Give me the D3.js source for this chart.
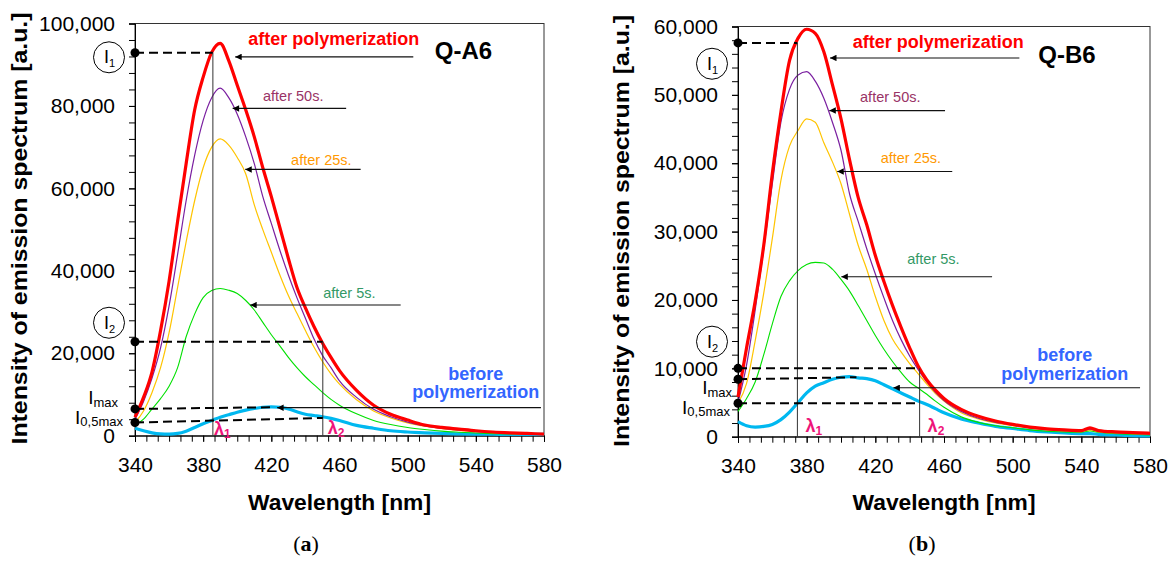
<!DOCTYPE html>
<html><head><meta charset="utf-8">
<script src="https://cdn.jsdelivr.net/npm/d3@7"></script>
<style>
body{margin:0;background:#fff;}
svg{display:block;font-family:"Liberation Sans",Arial,sans-serif;}
</style></head><body>
<svg id="chart" width="1169" height="561"></svg>
<script>
// ---------- DATA ----------
const wavelengthA = [340,345,350,355,360,365,370,375,380,385,390,395,400,405,410,415,420,425,430,435,440,445,450,455,460,470,480,490,500,510,520,530,540,550,560,570,580];
const qa6AfterPoly = [4500,9300,15500,25500,37500,52000,66000,79000,87000,93000,95200,91000,85000,79000,72500,65000,58000,50500,43000,36000,31000,26500,22500,19000,15800,11000,7400,5200,3800,2600,2000,1600,1200,900,700,550,400];
const qa6After50 = [4000,8300,14000,21300,31500,44000,57000,68000,76500,82000,84300,82000,78000,72500,66000,58000,51500,45000,39000,33500,28500,23500,19500,16500,13300,9300,6400,4600,3300,2400,1800,1400,1050,800,600,450,350];
const qa6After25 = [3200,6000,10500,16500,25000,36000,47000,57000,65000,70000,72000,70500,67500,63500,56000,50000,44500,39000,34000,29700,25500,21500,18000,15000,12500,8700,6000,4300,3100,2300,1700,1300,1000,750,550,400,300];
const qa6After5 = [2500,4000,6500,9000,12000,16500,24000,29500,33500,35200,35700,35300,34500,32800,30500,27500,24500,21800,19000,16500,14300,12400,10500,8800,7400,5300,3700,2700,2000,1500,1100,850,650,500,400,350,300];
const qa6Before = [1800,1200,700,450,400,550,1100,2000,2900,3700,4500,5100,5700,6200,6600,6900,7000,6900,6500,5800,5200,4900,4600,4200,3700,2500,1800,1200,900,700,550,450,400,350,300,300,300];

const wavelengthB = [340,345,350,355,360,365,370,375,380,385,390,395,400,405,410,415,420,425,430,435,440,445,450,455,460,470,480,490,500,510,520,530,540,545,550,560,570,580];
const qb6AfterPoly = [5800,13000,19800,28000,38500,47500,55000,58300,59600,59000,56300,51500,46500,40500,35000,31000,26500,22700,19200,16000,13000,10300,8300,6800,5600,4000,3000,2300,1800,1400,1150,1000,900,1300,900,700,600,500];
const qb6After50 = [5000,10500,18500,27500,37000,46000,50800,52900,53400,52000,49500,46000,41900,35500,31500,27500,23800,20300,17000,14200,11800,9800,8000,6500,5300,3700,2700,2100,1700,1300,1050,900,800,1100,800,600,500,400];
const qb6After25 = [4900,7800,14000,21000,29000,37500,42500,44800,46500,46000,43000,40200,37000,32500,28000,24500,20500,17000,14300,12400,10700,9200,7700,6300,5200,3500,2600,2000,1600,1250,1000,850,750,1000,750,550,450,350];
const qb6After5 = [3700,5600,8000,12000,16500,20500,22800,24300,25200,25500,25400,24500,23000,21300,19200,17000,14800,12800,11000,9400,8000,7100,6200,5200,4300,2900,2100,1600,1300,1000,800,700,650,850,650,450,350,250];
const qb6Before = [2200,1600,1400,1500,1800,2500,3600,5000,6400,7400,7900,8400,8700,8800,8600,8500,8200,7600,7000,6400,5800,5200,4700,4100,3500,2600,2000,1500,1200,900,700,550,450,450,350,250,150,100];

const xTickValues = [340,380,420,460,500,540,580];
const xTickLabels = ["340","380","420","460","500","540","580"];
const yTickValuesA = [0,20000,40000,60000,80000,100000];
const yTickLabelsA = ["0","20,000","40,000","60,000","80,000","100,000"];
const yTickValuesB = [0,10000,20000,30000,40000,50000,60000];
const yTickLabelsB = ["0","10,000","20,000","30,000","40,000","50,000","60,000"];

const seriesNames = ["before polymerization","after 5s.","after 25s.","after 50s.","after polymerization"];

// characteristic points (wavelength nm / intensity a.u.)
const markersA = {I1:92900, lambda1:385.7, I2:22800, lambda2:450.2, Imax:6500, ImaxEnd:[420,6900], I05:3200, I05End:4300, circle1:91800, circle2:27400};
const markersB = {I1:57600, lambda1:374.6, I2:10000, lambda2:445.8, Imax:8400, ImaxEnd:[409,8700], I05:4900, I05End:4900, circle1:54550, circle2:13900};

// label anchors (wavelength, intensity) and arrows (from, to, at intensity)
const labelsA = [
  {t:"after polymerization", lam:406.5, v:94800, a:[503.3,398.8,91900]},
  {t:"after 50s.", lam:415.1, v:81200, a:[463.9,397.3,79400]},
  {t:"after 25s.", lam:431.6, v:65700, a:[472.4,404.7,64600]},
  {t:"after 5s.", lam:450.4, v:33300, a:[495.9,407.6,31700]},
  {t:"before polymerization", lam:540, v:[13500,9100], a:[578.2,423.4,6800]}
];
const labelsB = [
  {t:"after polymerization", lam:406.8, v:56800, a:[503.9,393.6,55400]},
  {t:"after 50s.", lam:411.1, v:48900, a:[460.6,393.2,47700]},
  {t:"after 25s.", lam:423.1, v:40000, a:[464.8,397.8,38800]},
  {t:"after 5s.", lam:438.6, v:25200, a:[488,400.2,23400]},
  {t:"before polymerization", lam:530.3, v:[11100,8300], a:[574.2,430.5,7150]}
];

// ---------- STYLE ----------
const styles = {
  "after polymerization": {stroke:"#ff0000", w:3.2, text:"#ff0000", bold:true, size:18},
  "after 50s.": {stroke:"#7a1fa0", w:1.2, text:"#993366", bold:false, size:14.5},
  "after 25s.": {stroke:"#ffc400", w:1.2, text:"#ff9900", bold:false, size:14.5},
  "after 5s.": {stroke:"#00e000", w:1.1, text:"#339966", bold:false, size:14.5},
  "before polymerization": {stroke:"#00b8f0", w:3.2, text:"#3366ff", bold:true, size:18}
};

const panels = [
  {name:"Q-A6", cap:"a", lam:wavelengthA, vals:[qa6Before,qa6After5,qa6After25,qa6After50,qa6AfterPoly],
   box:{l:135,r:544,t:23.5,b:435.7}, yMax:100000, yTicks:yTickValuesA, yLabels:yTickLabelsA, yMinor:4000,
   m:markersA, labels:labelsA, nameLam:515.9, nameV:91400,
   titleX:27, titleY:228.5, capX:306,
   imax:{dx:-17, dy:-5}, i05:{dx:-12, dy:1}, lamDx:[1,5], lamY:[-1,-2]},
  {name:"Q-B6", cap:"b", lam:wavelengthB, vals:[qb6Before,qb6After5,qb6After25,qb6After50,qb6AfterPoly],
   box:{l:738,r:1150,t:26.5,b:436.7}, yMax:60000, yTicks:yTickValuesB, yLabels:yTickLabelsB, yMinor:2000,
   m:markersB, labels:labelsB, nameLam:514.9, nameV:54700,
   titleX:629, titleY:231, capX:922,
   imax:{dx:-6, dy:15}, i05:{dx:-8, dy:10.5}, lamDx:[8,8], lamY:[-5,-5]}
];

const svg = d3.select("#chart");
const defs = svg.append("defs");
defs.append("marker").attr("id","arr").attr("viewBox","0 0 10 10")
  .attr("refX",10).attr("refY",5).attr("markerWidth",8).attr("markerHeight",6.5)
  .attr("markerUnits","userSpaceOnUse").attr("orient","auto")
  .append("path").attr("d","M0,0L10,5L0,10z").attr("fill","#000");

function drawPanel(p){
  const B = p.box;
  const x = d3.scaleLinear().domain([340,580]).range([B.l,B.r]);
  const y = d3.scaleLinear().domain([0,p.yMax]).range([B.b,B.t]);
  const g = svg.append("g");

  // frame
  g.append("rect").attr("x",B.l).attr("y",B.t).attr("width",B.r-B.l).attr("height",B.b-B.t)
    .attr("fill","none").attr("stroke","#333").attr("stroke-width",1);

  // minor ticks
  const xMinor = d3.range(37).map(i=>340+i*40/6);
  const gxm = g.append("g").attr("transform",`translate(0,${B.b})`)
    .call(d3.axisBottom(x).tickValues(xMinor).tickSize(6).tickFormat(""));
  gxm.select(".domain").remove();
  const gym = g.append("g").attr("transform",`translate(${B.l},0)`)
    .call(d3.axisLeft(y).tickValues(d3.range(0,p.yMax+1,p.yMinor)).tickSize(6).tickFormat(""));
  gym.select(".domain").remove();

  // major axes
  const gx = g.append("g").attr("transform",`translate(0,${B.b})`)
    .call(d3.axisBottom(x).tickValues(xTickValues).tickSize(6).tickPadding(15)
      .tickFormat((d,i)=>xTickLabels[i]));
  const gy = g.append("g").attr("transform",`translate(${B.l},0)`)
    .call(d3.axisLeft(y).tickValues(p.yTicks).tickSize(6).tickPadding(14)
      .tickFormat((d,i)=>p.yLabels[i]));
  [gx,gy,gxm,gym].forEach(a=>{
    a.attr("font-family","'Liberation Sans',Arial,sans-serif").attr("font-size",21);
    a.selectAll("line").attr("stroke","#000");
    a.selectAll(".domain").attr("stroke","#000");
    a.selectAll("text").attr("fill","#000");
  });

  // curves
  const line = d3.line().x(d=>x(d[0])).y(d=>y(d[1])).curve(d3.curveMonotoneX);
  seriesNames.forEach((nm,k)=>{
    const st = styles[nm];
    const pts = p.lam.map((l,i)=>[l,p.vals[k][i]]);
    g.append("path").attr("d",line(pts)).attr("fill","none")
      .attr("stroke",st.stroke).attr("stroke-width",st.w).attr("stroke-linejoin","round");
  });

  // characteristic lines
  const m = p.m;
  const dash = (x1,y1,x2,y2)=>g.append("line").attr("x1",x1).attr("y1",y1).attr("x2",x2).attr("y2",y2)
      .attr("stroke","#000").attr("stroke-width",2).attr("stroke-dasharray","9,5");
  const thin = (x1,y1,x2,y2)=>g.append("line").attr("x1",x1).attr("y1",y1).attr("x2",x2).attr("y2",y2)
      .attr("stroke","#333").attr("stroke-width",1);
  dash(B.l,y(m.I1),x(m.lambda1),y(m.I1));
  thin(x(m.lambda1),y(m.I1),x(m.lambda1),B.b);
  dash(B.l,y(m.I2),x(m.lambda2),y(m.I2));
  thin(x(m.lambda2),y(m.I2),x(m.lambda2),B.b);
  dash(B.l,y(m.Imax),x(m.ImaxEnd[0]),y(m.ImaxEnd[1]));
  dash(B.l,y(m.I05),x(m.lambda2),y(m.I05End));
  [m.I1,m.I2,m.Imax,m.I05].forEach(v=>{
    g.append("circle").attr("cx",B.l).attr("cy",y(v)).attr("r",4.5).attr("fill","#000");
  });

  // circled I1, I2
  [[m.circle1,"1"],[m.circle2,"2"]].forEach(([v,s])=>{
    const cx = B.l-26, cy = y(v);
    g.append("circle").attr("cx",cx).attr("cy",cy).attr("r",15.5).attr("fill","#fff")
      .attr("stroke","#000").attr("stroke-width",1);
    const t = g.append("text").attr("x",cx-5).attr("y",cy+6).attr("font-size",18).attr("fill","#000");
    t.append("tspan").text("I");
    t.append("tspan").attr("dy",4).attr("font-size",11).text(s);
  });

  // Imax / I0,5max
  const tm = g.append("text").attr("x",B.l+p.imax.dx).attr("y",y(m.Imax)+p.imax.dy)
    .attr("text-anchor","end").attr("font-size",19).attr("fill","#000");
  tm.append("tspan").text("I");
  tm.append("tspan").attr("dy",3).attr("font-size",13).text("max");
  const t5 = g.append("text").attr("x",B.l+p.i05.dx).attr("y",y(m.I05)+p.i05.dy)
    .attr("text-anchor","end").attr("font-size",19).attr("fill","#000");
  t5.append("tspan").text("I");
  t5.append("tspan").attr("dy",2).attr("font-size",13).text("0,5max");

  // lambda labels
  [[m.lambda1,"1",0],[m.lambda2,"2",1]].forEach(([l,s,i])=>{
    const t = g.append("text").attr("x",x(l)+p.lamDx[i]).attr("y",B.b+p.lamY[i])
      .attr("font-size",18).attr("font-weight","bold").attr("fill","#ee1479");
    t.append("tspan").text("λ");
    t.append("tspan").attr("dy",3).attr("font-size",12).text(s);
  });

  // series labels and arrows
  p.labels.forEach(lb=>{
    const st = styles[lb.t];
    g.append("line").attr("x1",x(lb.a[0])).attr("y1",y(lb.a[2])).attr("x2",x(lb.a[1])).attr("y2",y(lb.a[2]))
      .attr("stroke","#111").attr("stroke-width",1.1).attr("marker-end","url(#arr)");
    if (Array.isArray(lb.v)) {
      const words = ["before","polymerization"];
      words.forEach((w,i)=>{
        g.append("text").attr("x",x(lb.lam)).attr("y",y(lb.v[i])).attr("text-anchor","middle")
          .attr("font-size",st.size).attr("font-weight","bold").attr("fill",st.text).text(w);
      });
    } else {
      g.append("text").attr("x",x(lb.lam)).attr("y",y(lb.v))
        .attr("font-size",st.size).attr("font-weight",st.bold?"bold":"normal").attr("fill",st.text).text(lb.t);
    }
  });

  // sample name
  g.append("text").attr("x",x(p.nameLam)).attr("y",y(p.nameV)).attr("font-size",24)
    .attr("font-weight","bold").attr("fill","#000").text(p.name);

  // axis titles
  g.append("text").attr("transform",`translate(${p.titleX},${p.titleY}) rotate(-90)`)
    .attr("text-anchor","middle").attr("font-size",22).attr("font-weight","bold").attr("fill","#000")
    .attr("textLength",432).attr("lengthAdjust","spacingAndGlyphs")
    .text("Intensity of emission spectrum [a.u.]");
  g.append("text").attr("x",(B.l+B.r)/2).attr("y",510).attr("text-anchor","middle")
    .attr("font-size",22).attr("font-weight","bold").attr("fill","#000")
    .attr("textLength",183).attr("lengthAdjust","spacingAndGlyphs").text("Wavelength [nm]");

  // caption
  const c = g.append("text").attr("x",p.capX).attr("y",551).attr("text-anchor","middle")
    .attr("font-family","'Liberation Serif','DejaVu Serif',serif").attr("font-size",22).attr("fill","#000");
  c.append("tspan").text("(");
  c.append("tspan").attr("font-weight","bold").text(p.cap);
  c.append("tspan").text(")");
}
panels.forEach(drawPanel);
</script>
</body></html>
